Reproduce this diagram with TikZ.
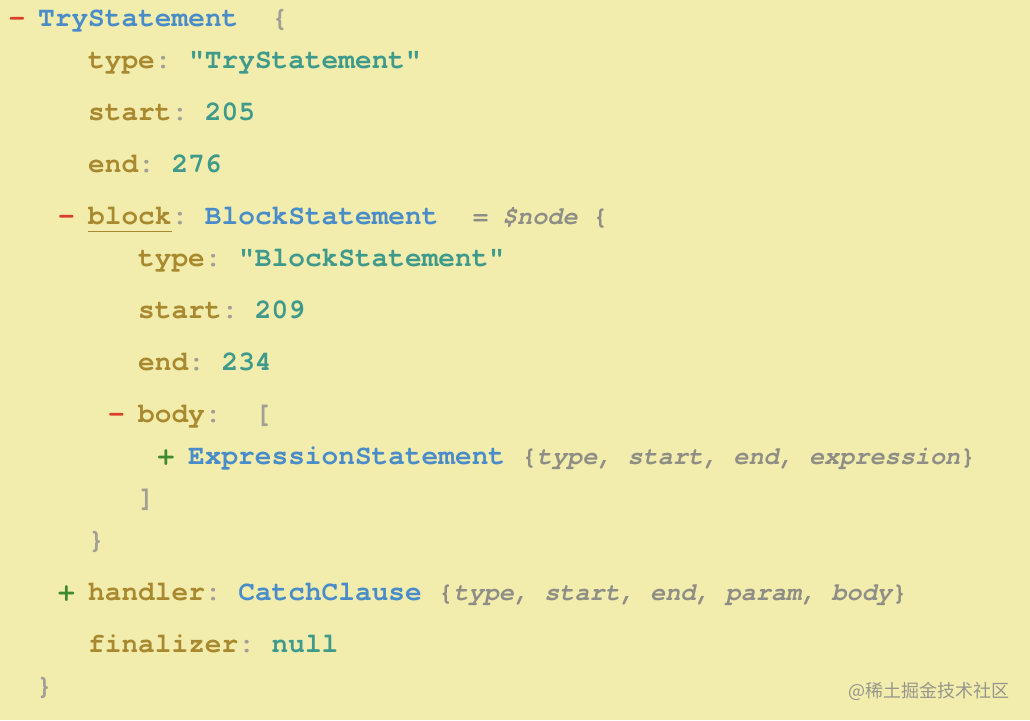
\documentclass[tikz,border=0pt]{standalone}
\usepackage{fontspec}
\newfontfamily\cmono[Ligatures=NoCommon]{TeX Gyre Cursor}
\newfontfamily\cjk{Noto Sans CJK SC}
\definecolor{bgc}{HTML}{F3EDAD}
\definecolor{keyc}{HTML}{A8892F}
\definecolor{typc}{HTML}{4A8CC8}
\definecolor{valc}{HTML}{3F9A8C}
\definecolor{punc}{HTML}{A0A096}
\definecolor{itc}{HTML}{8E8E86}
\definecolor{redc}{HTML}{D9402A}
\definecolor{grnc}{HTML}{3F8A2E}
\definecolor{wmc}{HTML}{96968C}
\newcommand\codebig{\cmono\bfseries\fontsize{27.8}{30}\selectfont}
\newcommand\codesm{\cmono\bfseries\fontsize{25.2}{28}\selectfont}
\newcommand\ckey[1]{\textcolor{keyc}{#1}\textcolor{punc}{:}}
\newcommand\ctyp[1]{\textcolor{typc}{#1}}
\newcommand\cval[1]{\textcolor{valc}{#1}}
\newcommand\cpun[1]{\textcolor{punc}{#1}}
\newcommand\csumm[1]{{\codesm\color{itc}\{\itshape #1\upshape\}}}
\tikzset{
  tx/.style={anchor=base west, inner sep=0pt, font=\codebig},
  mk/.style={anchor=base, inner sep=0pt, font=\codebig},
}
\begin{document}
\begin{tikzpicture}[x=1pt,y=-1pt]
\fill[bgc] (0,0) rectangle (1030,720);
\useasboundingbox (0,0) rectangle (1030,720);
% markers
\node[mk, text=redc] (m1) at (17,26) {-};
\node[mk, text=redc] (m2) at (66.5,224) {-};
\node[mk, text=redc] (m3) at (116.5,422) {-};
\node[mk, text=grnc] (m4) at (166,464) {+};
\node[mk, text=grnc] (m5) at (66.5,600) {+};
% lines
\node[tx] (l1) at (38,26) {\ctyp{TryStatement}\ \ \cpun{\{}};
\node[tx] (l2) at (88,68) {\ckey{type}\ \cval{"TryStatement"}};
\node[tx] (l3) at (88,120) {\ckey{start}\ \cval{205}};
\node[tx] (l4) at (88,172) {\ckey{end}\ \cval{276}};
\node[tx] (l5) at (88,224) {\ckey{block}\ \ctyp{BlockStatement}\ \ {\codesm\color{itc}\itshape =\ \$node\ \upshape\{}};
\draw[keyc, line width=1.8pt] (88,231.5) -- (171.5,231.5);
\node[tx] (l6) at (138,266) {\ckey{type}\ \cval{"BlockStatement"}};
\node[tx] (l7) at (138,318) {\ckey{start}\ \cval{209}};
\node[tx] (l8) at (138,370) {\ckey{end}\ \cval{234}};
\node[tx] (l9) at (138,422) {\ckey{body}\ \ \cpun{[}};
\node[tx] (l10) at (188,464) {\ctyp{ExpressionStatement}\ \csumm{type,\ start,\ end,\ expression}};
\node[tx] (l11) at (138,506) {\cpun{]}};
\node[tx] (l12) at (88,548) {\cpun{\}}};
\node[tx] (l13) at (88,600) {\ckey{handler}\ \ctyp{CatchClause}\ \csumm{type,\ start,\ end,\ param,\ body}};
\node[tx] (l14) at (88,652) {\ckey{finalizer}\ \cval{null}};
\node[tx] (l15) at (36,694) {\cpun{\}}};
% watermark
\node[anchor=base east, inner sep=0pt, text=wmc, font=\cjk\fontsize{18}{20}\selectfont] (wm) at (1010,697) {@稀土掘金技术社区};
\end{tikzpicture}
\end{document}
